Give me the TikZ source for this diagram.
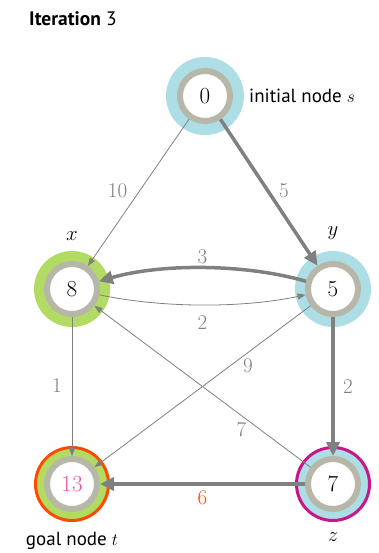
\documentclass[tikz,border=0pt]{standalone}
\usepackage{fontspec}
\setsansfont{PT Sans}
\usetikzlibrary{arrows.meta}
\definecolor{lblue}{HTML}{ADDDE5}
\definecolor{lgreen}{HTML}{B2DB63}
\definecolor{ringgray}{HTML}{B7B7A9}
\definecolor{edgegray}{HTML}{808080}
\definecolor{goalred}{HTML}{FF4A00}
\definecolor{zmag}{HTML}{C8158A}
\definecolor{pinknum}{HTML}{F052A8}
\begin{document}
\begin{tikzpicture}[x=1pt,y=-1pt,
  vtx/.style={circle, minimum size=50pt, inner sep=0pt, draw=ringgray, line width=6pt, fill=white, font=\fontsize{23}{23}\selectfont},
  thin/.style={draw=edgegray, line width=0.8pt, -{Stealth[inset=0pt,length=8pt,width=6pt]}},
  thick/.style={draw=edgegray, line width=3.5pt, -{Stealth[inset=0pt,length=14pt,width=13pt]}},
  lbl/.style={text=edgegray, font=\fontsize{21}{21}\selectfont, inner sep=0pt},
  sanslbl/.style={font=\sffamily\fontsize{19}{19}\selectfont, inner sep=0pt},
  vname/.style={font=\fontsize{22}{22}\selectfont, inner sep=0pt}
]
\useasboundingbox[fill=white] (0,0) rectangle (378,553);
\coordinate (S) at (205,96);
\coordinate (X) at (72,289);
\coordinate (Y) at (333,289);
\coordinate (T) at (72,484);
\coordinate (Z) at (333,484);
\fill[lblue] (S) circle[radius=39pt];
\fill[lgreen] (X) circle[radius=38pt];
\fill[lblue] (Y) circle[radius=38pt];
\draw[goalred, fill=lgreen, line width=3pt] (T) circle[radius=36.5pt];
\draw[zmag, fill=lblue, line width=3pt] (Z) circle[radius=36.5pt];
\node[vtx] (s) at (S) {0};
\node[vtx] (x) at (X) {8};
\node[vtx] (y) at (Y) {5};
\node[vtx] (t) at (T) {\textcolor{pinknum}{13}};
\node[vtx] (z) at (Z) {7};
\node[anchor=west, font=\sffamily\fontsize{19.5}{19.5}\selectfont, inner sep=0pt] (title) at (29,19) {\textbf{Iteration} 3};
\node[sanslbl, anchor=west] (slabel) at (249,96) {initial node $s$};
\node[sanslbl] (tlabel) at (72,541) {goal node $t$};
\node[vname] (xname) at (72,236) {$x$};
\node[vname] (yname) at (333,233) {$y$};
\node[vname] (zname) at (333,537) {$z$};
\draw[thin] (s) -- node[lbl, pos=0.49, xshift=-22pt] (l10) {10} (x);
\draw[thick] (s) -- node[lbl, pos=0.49, xshift=16pt] (l5) {5} (y);
\draw[thick] (y) to[bend right=16, looseness=0.8] node[lbl, pos=0.5, yshift=11pt] (l3) {3} (x);
\draw[thin] (x) to[bend right=12, looseness=0.8] node[lbl, pos=0.5, yshift=-18pt] (l2a) {2} (y);
\draw[thin] (y) -- node[lbl, pos=0.29, yshift=-13pt] (l9) {9} (t);
\draw[thin] (z) -- node[lbl, pos=0.32, yshift=-14pt] (l7) {7} (x);
\draw[thin] (x) -- node[lbl, pos=0.49, xshift=-15pt] (l1) {1} (t);
\draw[thick] (y) -- node[lbl, pos=0.5, xshift=15pt] (l2b) {2} (z);
\draw[thick] (z) -- node[lbl, pos=0.5, yshift=-14pt, text=goalred] (l6) {6} (t);
\end{tikzpicture}
\end{document}
